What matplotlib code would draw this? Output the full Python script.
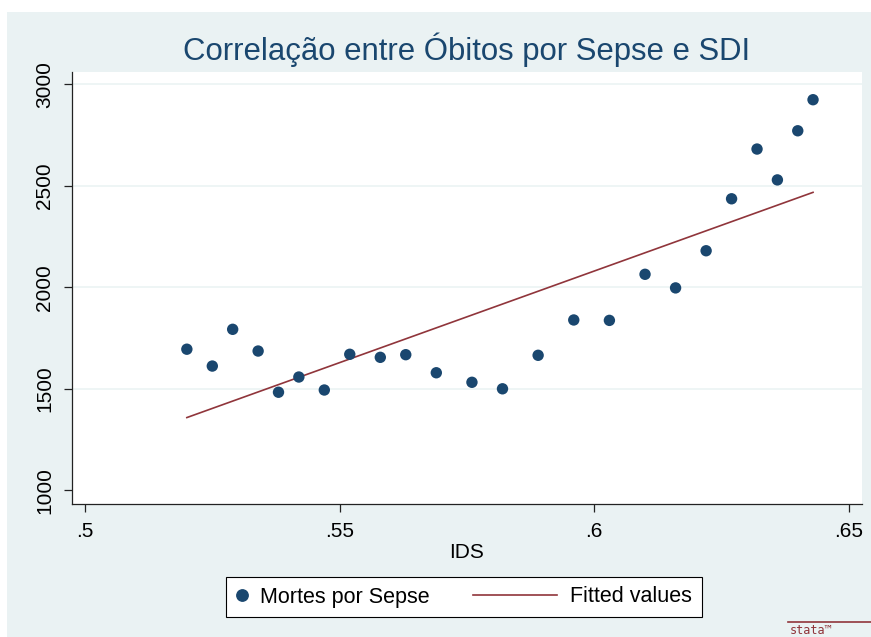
import numpy as np
import matplotlib
matplotlib.use("Agg")
import matplotlib.pyplot as plt
from matplotlib.lines import Line2D
from matplotlib.patches import Rectangle
from matplotlib.legend_handler import HandlerLine2D

plt.rcParams['font.family'] = ['Liberation Sans', 'DejaVu Sans']

# values
ids = [0.520, 0.525, 0.529, 0.534, 0.538, 0.542, 0.547, 0.552, 0.558, 0.563,
       0.569, 0.576, 0.582, 0.589, 0.596, 0.603, 0.610, 0.616, 0.622, 0.627,
       0.632, 0.636, 0.640, 0.643]
mortes = [1695, 1612, 1793, 1686, 1483, 1558, 1494, 1670, 1655, 1668,
          1579, 1532, 1500, 1665, 1839, 1837, 2064, 1997, 2180, 2436,
          2681, 2529, 2771, 2924]
x_ticks = [0.5, 0.55, 0.6, 0.65]
x_ticklabels = ['.5', '.55', '.6', '.65']
y_ticks = [1000, 1500, 2000, 2500, 3000]

navy = '#1a476f'
maroon = '#90353b'
bg = '#eaf2f3'

W, H = 871, 637
fig = plt.figure(figsize=(W / 100, H / 100), dpi=100, facecolor='white')

# stata outer region
fig.patches.append(Rectangle((7 / W, 0), 1, 1 - 12 / H, transform=fig.transFigure,
                             facecolor=bg, edgecolor='none', zorder=-10))

left, right, top, bottom = 71.7, 861.7, 71.7, 504
ax = fig.add_axes([left / W, 1 - bottom / H, (right - left) / W, (bottom - top) / H])
ax.set_facecolor('white')

# linear fit
b, a = np.polyfit(ids, mortes, 1)
xs = np.array([min(ids), max(ids)])

ax.scatter(ids, mortes, s=8.2 ** 2, color=navy, edgecolors='none', zorder=3)
ax.plot(xs, a + b * xs, color=maroon, lw=1.2, zorder=2)

ax.set_xlim(0.49738, 0.65256)
ax.set_ylim(932.5, 3062)
ax.set_xticks(x_ticks)
ax.set_xticklabels(x_ticklabels)
ax.set_yticks(y_ticks)

for s in ['top', 'right']:
    ax.spines[s].set_visible(False)
for s in ['left', 'bottom']:
    ax.spines[s].set_color('#222222')
    ax.spines[s].set_linewidth(0.9)

ax.tick_params(axis='both', length=5.8, width=0.9, color='#222222',
               labelsize=15, labelcolor='black')
ax.tick_params(axis='x', pad=7)
ax.tick_params(axis='y', pad=7, labelrotation=90)
for lab in ax.get_yticklabels():
    lab.set_va('center')

ax.grid(axis='y', color=bg, lw=1.1, zorder=0)
ax.yaxis.get_gridlines()[0].set_visible(False)
ax.set_axisbelow(True)

ax.set_xlabel('IDS', fontsize=15, va='center')
ax.xaxis.set_label_coords(0.5, -(552.5 - bottom) / (bottom - top))

fig.text((left + right) / 2 / W, 1 - 50 / H, 'Correlação entre Óbitos por Sepse e SDI',
         ha='center', va='center', fontsize=22.4, color=navy)


class LongLine(HandlerLine2D):
    # draws the fitted-values key wider than the handle box, to the left
    def get_xdata(self, legend, xdescent, ydescent, width, height, fontsize):
        x1 = -xdescent + width
        x0 = x1 - 3.9 * fontsize
        return np.array([x0, x1]), np.array([(x0 + x1) / 2])


dot = Line2D([], [], marker='o', ls='none', color=navy, markersize=8.2)
fitline = Line2D([], [], color=maroon, lw=1.2)
leg = fig.legend([dot, fitline], ['Mortes por Sepse', 'Fitted values'],
                 loc='center', bbox_to_anchor=(464 / W, 1 - 597 / H), ncol=2,
                 fontsize=15.5, frameon=True, fancybox=False, framealpha=1,
                 edgecolor='black', handlelength=0.5, handletextpad=0.59,
                 columnspacing=5.45, borderpad=0.45,
                 handler_map={fitline: LongLine()})
leg.get_frame().set_linewidth(0.8)

# stata logo corner
fig.lines.append(Line2D([788 / W, 1], [1 - 622 / H] * 2, transform=fig.transFigure,
                        color=maroon, lw=1.2))
fig.text(790 / W, 1 - 624 / H, 'stata™', ha='left', va='top', fontsize=8.5,
         color=maroon, family='DejaVu Sans Mono')

fig.savefig('out.png', dpi=100, facecolor=fig.get_facecolor())
